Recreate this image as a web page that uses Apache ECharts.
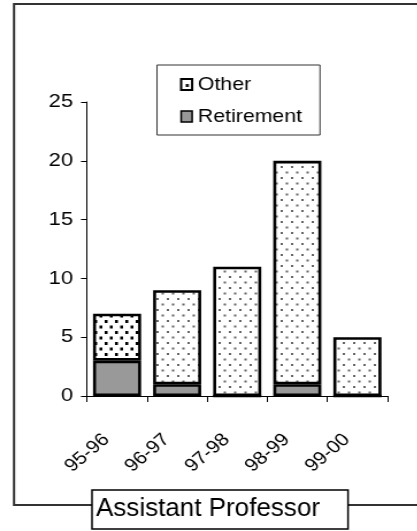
<!DOCTYPE html>
<html><head><meta charset="utf-8">
<script src="https://cdn.jsdelivr.net/npm/echarts@6/dist/echarts.min.js"></script>
<style>
html,body{margin:0;padding:0;background:#fff;overflow:hidden}
#wrap{width:417px;height:531px;overflow:hidden;position:relative}
#c{width:362.6px;height:531px;transform:scaleX(1.15);transform-origin:0 0}
</style>
</head><body><div id="wrap"><div id="c"></div></div>
<script>
var categories = ['95-96','96-97','97-98','98-99','99-00'];
var retirement = [3, 1, 0, 1, 0];
var other = [4, 8, 11, 19, 5];
var yTicks = [0, 5, 10, 15, 20, 25];

var SX = 1.15; // horizontal stretch of the original picture
function px(x) { return x / SX; }

function makePattern(w, h, dots, color, dw, dh) {
  var c = document.createElement('canvas');
  c.width = w; c.height = h;
  var g = c.getContext('2d');
  g.fillStyle = '#fff'; g.fillRect(0, 0, w, h);
  g.fillStyle = color;
  dots.forEach(function (d) { g.fillRect(d[0], d[1], dw, dh); });
  return c;
}
var grayDots = makePattern(9, 11, [[1, 1], [5.5, 6.5]], '#666', 2, 2);
var blackDots = makePattern(9, 11, [[1, 1], [5.5, 6.5]], '#000', 2.5, 3);
var legendDot = makePattern(9, 11, [[4, 5]], '#000', 2.5, 3);
var font = 'Liberation Sans, Arial, sans-serif';

var chart = echarts.init(document.getElementById('c'));
chart.setOption({
  animation: false,
  backgroundColor: '#fff',
  grid: {left: px(87), right: px(30), top: 102, bottom: 135},
  legend: {
    orient: 'vertical', left: px(157), top: 65,
    padding: [10, 0, 9, px(23)], itemGap: 13,
    borderColor: '#333', borderWidth: 1,
    itemWidth: px(11), itemHeight: 11, icon: 'rect',
    textStyle: {fontFamily: font, fontSize: 18.5, lineHeight: 19, color: '#000', width: px(163) - px(23) - px(11) - 6},
    data: [
      {name: 'Other', itemStyle: {color: {image: legendDot, repeat: 'repeat'}, borderColor: '#000', borderWidth: 2}},
      {name: 'Retirement', itemStyle: {color: '#999', borderColor: '#000', borderWidth: 1.5}}
    ]
  },
  xAxis: {
    type: 'category', data: categories,
    axisLine: {lineStyle: {color: '#000', width: 1}},
    axisTick: {show: true, length: 6, lineStyle: {color: '#000'}},
    axisLabel: {rotate: 44, fontFamily: font, fontSize: 18, color: '#000', margin: 32, padding: [0, 13, 0, 0]}
  },
  yAxis: {
    type: 'value', min: yTicks[0], max: yTicks[yTicks.length - 1], interval: yTicks[1] - yTicks[0],
    splitLine: {show: false},
    axisLine: {show: true, lineStyle: {color: '#000'}},
    axisTick: {show: true, length: px(6), lineStyle: {color: '#000'}},
    axisLabel: {fontFamily: font, fontSize: 19, color: '#000', margin: px(14)}
  },
  series: [
    {name: 'Retirement', type: 'bar', stack: 's', barCategoryGap: '20%', data: retirement,
     itemStyle: {color: '#999', borderColor: '#000', borderWidth: 2.6}},
    {name: 'Other', type: 'bar', stack: 's', barCategoryGap: '20%',
     data: other.map(function (v, i) {
       return {value: v, itemStyle: {color: {image: i === 0 ? blackDots : grayDots, repeat: 'repeat'}}};
     }),
     itemStyle: {borderColor: '#000', borderWidth: 2.6}}
  ],
  graphic: [
    {type: 'rect', z: 100, silent: true, shape: {x: px(14), y: 4, width: 420, height: 501},
     style: {fill: null, stroke: '#333', lineWidth: 2}},
    {type: 'rect', z: 101, shape: {x: px(92), y: 490, width: px(256), height: 39},
     style: {fill: '#fff', stroke: '#000', lineWidth: 1.5}},
    {type: 'text', z: 102, x: px(96), y: 509, scaleX: 1 / SX,
     style: {text: 'Assistant Professor', fontFamily: font, fontSize: 26, fill: '#000', align: 'left', verticalAlign: 'middle'}}
  ]
});
</script></body></html>
